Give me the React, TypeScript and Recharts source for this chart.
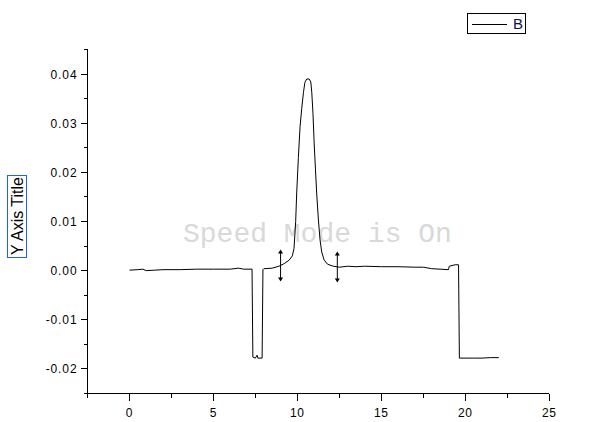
import React from 'react';
import { LineChart, Line, XAxis, YAxis, ReferenceLine } from 'recharts';

const seriesName = 'B';
const xValues = [
  0, 0.5, 0.8, 1.0, 1.5, 2.0, 3.0, 4.0, 5.0, 6.0, 6.5, 6.8, 7.0, 7.3,
  7.35, 7.5, 7.6, 7.65, 7.9, 7.95, 8.0, 8.5, 8.9, 9.2, 9.5, 9.7, 9.8, 9.9,
  9.96, 10.06, 10.16, 10.26, 10.36, 10.45, 10.55, 10.7, 10.8, 10.86, 10.93, 11.0,
  11.08, 11.15, 11.25, 11.35, 11.45, 11.59, 11.8, 12.14, 12.5, 13.0, 13.5,
  14.0, 15.0, 16.0, 17.0, 17.5, 18.0, 18.5, 19.0, 19.05, 19.4, 19.6, 19.65,
  20.5, 21.0, 21.5, 22.0,
];
const bValues = [
  0.0001, 0.0002, 0.0003, 0.0, 0.0001, 0.0002, 0.0002, 0.0003, 0.0003, 0.0003,
  0.0005, 0.0003, 0.0003, 0.0003, -0.0176, -0.0178, -0.0172, -0.0178, -0.0178,
  0.0002, 0.0004, 0.0005, 0.0009, 0.0014, 0.0021, 0.003, 0.0045, 0.01, 0.0158,
  0.023, 0.0293, 0.033, 0.0362, 0.0383, 0.039, 0.039, 0.0384, 0.0362, 0.032, 0.026,
  0.0205, 0.0158, 0.0105, 0.0063, 0.0038, 0.0022, 0.0013, 0.0009, 0.0007,
  0.0009, 0.0008, 0.0009, 0.0008, 0.0008, 0.0007, 0.0007, 0.0004, 0.0003,
  0.0002, 0.0009, 0.0012, 0.0012, -0.0178, -0.0178, -0.0178, -0.0177, -0.0177,
];

const xTicks = [-2.5, 0, 2.5, 5, 7.5, 10, 12.5, 15, 17.5, 20, 22.5, 25];
const xTickLabels = ['', '0', '', '5', '', '10', '', '15', '', '20', '', '25'];
const yTicks = [-0.025, -0.02, -0.015, -0.01, -0.005, 0, 0.005, 0.01, 0.015, 0.02, 0.025, 0.03, 0.035, 0.04, 0.045];
const yTickLabels = ['', '-0.02', '', '-0.01', '', '0.00', '', '0.01', '', '0.02', '', '0.03', '', '0.04', ''];

const arrowX = [9.0, 12.38];
const arrowLow = [-0.0022, -0.0024];
const arrowHigh = [0.0043, 0.0039];

const data = xValues.map((x, i) => ({ x, B: bValues[i] }));

const FONT = '"Liberation Sans", Arial, sans-serif';

const findLabel = (ticks: number[], labels: string[], v: number) => {
  const i = ticks.findIndex((t) => Math.abs(t - v) < 1e-9);
  return i >= 0 ? labels[i] : '';
};

const YTick = (props: any) => {
  const { x, y, payload } = props;
  const label = findLabel(yTicks, yTickLabels, payload.value);
  const len = label ? 7 : 4;
  return (
    <g>
      <line x1={x} x2={x - len} y1={y} y2={y} stroke="#000" shapeRendering="crispEdges" />
      {label && (
        <text x={x - 10} y={y + 4.5} textAnchor="end" fontFamily={FONT} fontSize={12} letterSpacing={0.9} fill="#000">
          {label}
        </text>
      )}
    </g>
  );
};

const XTick = (props: any) => {
  const { x, y, payload } = props;
  const label = findLabel(xTicks, xTickLabels, payload.value);
  const len = label ? 7 : 4;
  return (
    <g>
      <line x1={x} x2={x} y1={y} y2={y + len} stroke="#000" shapeRendering="crispEdges" />
      {label && (
        <text x={x} y={y + 23} textAnchor="middle" fontFamily={FONT} fontSize={12} letterSpacing={0.6} fill="#000">
          {label}
        </text>
      )}
    </g>
  );
};

const ArrowShape = (props: any) => {
  const { x1, y1, x2, y2 } = props;
  const top = Math.min(y1, y2);
  const bot = Math.max(y1, y2);
  const x = x1;
  return (
    <g>
      <line x1={x} x2={x} y1={top + 2} y2={bot - 2} stroke="#000" strokeWidth={1} />
      <path d={`M${x},${top} L${x - 2.5},${top + 4} L${x + 2.5},${top + 4} Z`} fill="#000" />
      <path d={`M${x},${bot} L${x - 2.5},${bot - 4} L${x + 2.5},${bot - 4} Z`} fill="#000" />
    </g>
  );
};

const YTitle = (props: any) => {
  const vb = props.viewBox || { x: 0, y: 49.5, width: 87.5, height: 344 };
  const cy = vb.y + vb.height / 2 - 5.5;
  const cx = 17;
  return (
    <g>
      <rect x={7.5} y={cy - 41} width={19} height={82} fill="none" stroke="#2060ff" strokeWidth={1} shapeRendering="crispEdges" />
      <text
        x={cx}
        y={cy}
        transform={`rotate(-90, ${cx}, ${cy})`}
        textAnchor="middle"
        dominantBaseline="central"
        fontFamily={FONT}
        fontSize={16}
        fill="#000"
      >
        Y Axis Title
      </text>
    </g>
  );
};

export default function App() {
  return (
    <div style={{ position: 'absolute', left: 0, top: 0, width: 593, height: 422, background: '#fff' }}>
      <svg width={593} height={422} style={{ position: 'absolute', left: 0, top: 0 }}>
        <text x={183} y={242} fontFamily='"Liberation Mono", "Courier New", monospace' fontSize={28} fill="#d9d9d9">
          Speed Mode is On
        </text>
      </svg>
      <div style={{ position: 'absolute', left: 0, top: 0 }}>
        <LineChart width={593} height={422} data={data} margin={{ top: 49.5, right: 43.8, bottom: 0, left: 0 }}>
          <XAxis
            dataKey="x"
            type="number"
            domain={[-2.5, 25]}
            ticks={xTicks}
            interval={0}
            height={28.5}
            tickSize={0}
            tickMargin={0}
            tickLine={false}
            axisLine={{ stroke: '#000', shapeRendering: 'crispEdges' }}
            tick={<XTick />}
            allowDataOverflow
          />
          <YAxis
            type="number"
            domain={[-0.025, 0.045]}
            ticks={yTicks}
            interval={0}
            width={87.5}
            tickSize={0}
            tickMargin={0}
            tickLine={false}
            axisLine={{ stroke: '#000', shapeRendering: 'crispEdges' }}
            tick={<YTick />}
            label={{ content: <YTitle /> }}
            allowDataOverflow
          />
          {arrowX.map((ax, i) => (
            <ReferenceLine
              key={i}
              segment={[
                { x: ax, y: arrowLow[i] },
                { x: ax, y: arrowHigh[i] },
              ]}
              stroke="#000"
              shape={<ArrowShape />}
              ifOverflow="visible"
            />
          ))}
          <Line
            type="linear"
            dataKey="B"
            name={seriesName}
            stroke="#000"
            strokeWidth={1}
            dot={false}
            isAnimationActive={false}
          />
        </LineChart>
      </div>
      <div
        style={{
          position: 'absolute',
          left: 467,
          top: 13,
          width: 59,
          height: 21,
          boxSizing: 'border-box',
          border: '1px solid #000',
          background: '#fff',
        }}
      >
        <div style={{ position: 'absolute', left: 4, top: 10, width: 35, height: 1, background: '#000' }} />
        <div
          style={{
            position: 'absolute',
            left: 45,
            top: 0,
            height: 19,
            lineHeight: '19px',
            fontFamily: FONT,
            fontSize: 15,
            color: '#10104a',
          }}
        >
          {seriesName}
        </div>
      </div>
    </div>
  );
}
